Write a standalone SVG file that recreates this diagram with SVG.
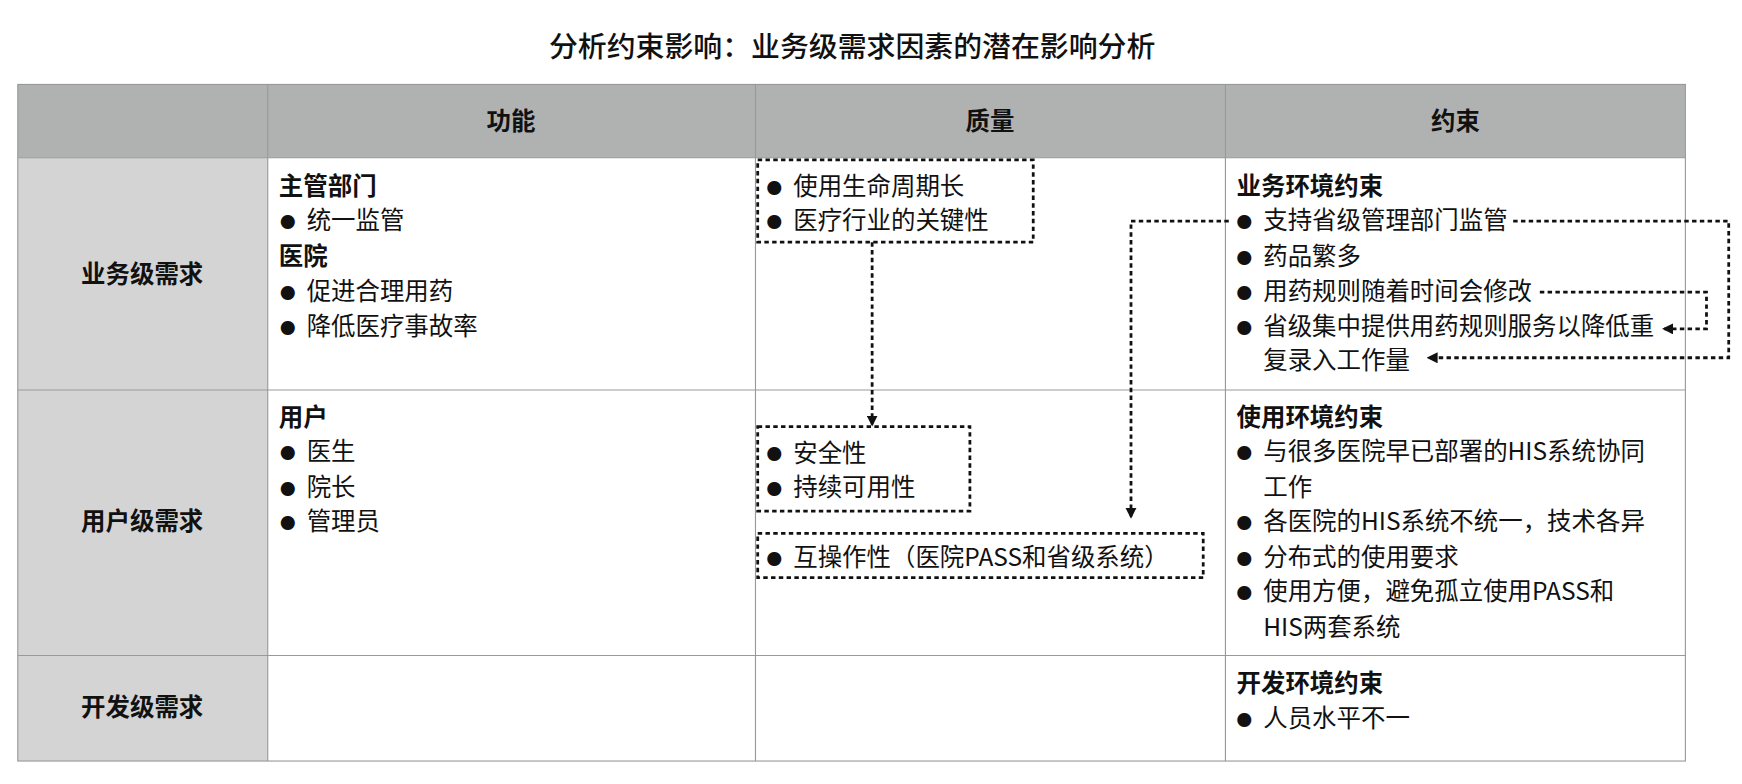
<svg xmlns="http://www.w3.org/2000/svg" width="1742" height="784" viewBox="0 0 1742 784">
<style>
text{font-family:"Noto Sans CJK SC","Liberation Sans",sans-serif;font-size:22px;fill:#111;dominant-baseline:central}
.b{font-weight:bold}
.c{text-anchor:middle}
.d{font-size:14px}
.grid{stroke:#999;stroke-width:1;fill:none}
.box{fill:none;stroke:#111;stroke-width:2.5;stroke-dasharray:4 3}
.con{fill:none;stroke:#111;stroke-width:2.5;stroke-dasharray:4 3}
</style>
<defs>
<marker id="ah" markerWidth="10" markerHeight="10" refX="8" refY="5" orient="auto" markerUnits="userSpaceOnUse"><path d="M0,0 L10,5 L0,10 z" fill="#111"/></marker>
</defs>
<rect width="1742" height="784" fill="#fff"/>
<g transform="scale(1.111)">
<text class="c" x="767" y="40" style="font-size:26px;font-weight:500">分析约束影响：业务级需求因素的潜在影响分析</text>
<g id="table">
<rect x="16" y="76" width="1501" height="66" fill="#b0b2b1"/>
<rect x="16" y="142" width="225" height="543" fill="#d4d4d4"/>
<rect x="16" y="76" width="1501" height="609" class="grid"/>
<path class="grid" d="M241 76V685M680 76V685M1103 76V685M16 142H1517M16 351H1517M16 590H1517"/>
<text class="b c" x="460" y="108">功能</text>
<text class="b c" x="891" y="108">质量</text>
<text class="b c" x="1310" y="108">约束</text>
<text class="b c" x="128" y="245">业务级需求</text>
<text class="b c" x="128" y="468">用户级需求</text>
<text class="b c" x="128" y="635">开发级需求</text>
</g>
<g id="func1">
<text class="b" x="251" y="166">主管部门</text>
<text class="d" x="252" y="199">●</text><text x="276" y="197">统一监管</text>
<text class="b" x="251" y="229">医院</text>
<text class="d" x="252" y="263">●</text><text x="276" y="261">促进合理用药</text>
<text class="d" x="252" y="294">●</text><text x="276" y="292">降低医疗事故率</text>
</g>
<g id="func2">
<text class="b" x="251" y="374">用户</text>
<text class="d" x="252" y="407">●</text><text x="276" y="405">医生</text>
<text class="d" x="252" y="439">●</text><text x="276" y="437">院长</text>
<text class="d" x="252" y="470">●</text><text x="276" y="468">管理员</text>
</g>
<g id="q1">
<rect class="box" x="682" y="144" width="248" height="74"/>
<text class="d" x="690" y="168">●</text><text x="714" y="166">使用生命周期长</text>
<text class="d" x="690" y="199">●</text><text x="714" y="197">医疗行业的关键性</text>
</g>
<g id="q2">
<rect class="box" x="682" y="384" width="191" height="76"/>
<text class="d" x="690" y="408">●</text><text x="714" y="406">安全性</text>
<text class="d" x="690" y="439">●</text><text x="714" y="437">持续可用性</text>
</g>
<g id="q3">
<rect class="box" x="682" y="480" width="401" height="40"/>
<text class="d" x="690" y="502">●</text><text x="714" y="500">互操作性（医院PASS和省级系统）</text>
</g>
<g id="c1">
<text class="b" x="1113" y="166">业务环境约束</text>
<text class="d" x="1113" y="199">●</text><text x="1137" y="197">支持省级管理部门监管</text>
<text class="d" x="1113" y="231">●</text><text x="1137" y="229">药品繁多</text>
<text class="d" x="1113" y="263">●</text><text x="1137" y="261">用药规则随着时间会修改</text>
<text class="d" x="1113" y="294">●</text><text x="1137" y="292">省级集中提供用药规则服务以降低重</text>
<text x="1137" y="323">复录入工作量</text>
</g>
<g id="c2">
<text class="b" x="1113" y="374">使用环境约束</text>
<text class="d" x="1113" y="407">●</text><text x="1137" y="405">与很多医院早已部署的HIS系统协同</text>
<text x="1137" y="437">工作</text>
<text class="d" x="1113" y="470">●</text><text x="1137" y="468">各医院的HIS系统不统一，技术各异</text>
<text class="d" x="1113" y="502">●</text><text x="1137" y="500">分布式的使用要求</text>
<text class="d" x="1113" y="533">●</text><text x="1137" y="531">使用方便，避免孤立使用PASS和</text>
<text x="1137" y="563">HIS两套系统</text>
</g>
<g id="c3">
<text class="b" x="1113" y="613">开发环境约束</text>
<text class="d" x="1113" y="647">●</text><text x="1137" y="645">人员水平不一</text>
</g>
<g id="connectors">
<path class="con" d="M785 218V382" marker-end="url(#ah)"/>
<path class="con" d="M1106 199H1018V465" marker-end="url(#ah)"/>
<path class="con" d="M1362 199H1556V322H1286" marker-end="url(#ah)"/>
<path class="con" d="M1386 263H1536V296H1498" marker-end="url(#ah)"/>
</g>
</g>
</svg>
